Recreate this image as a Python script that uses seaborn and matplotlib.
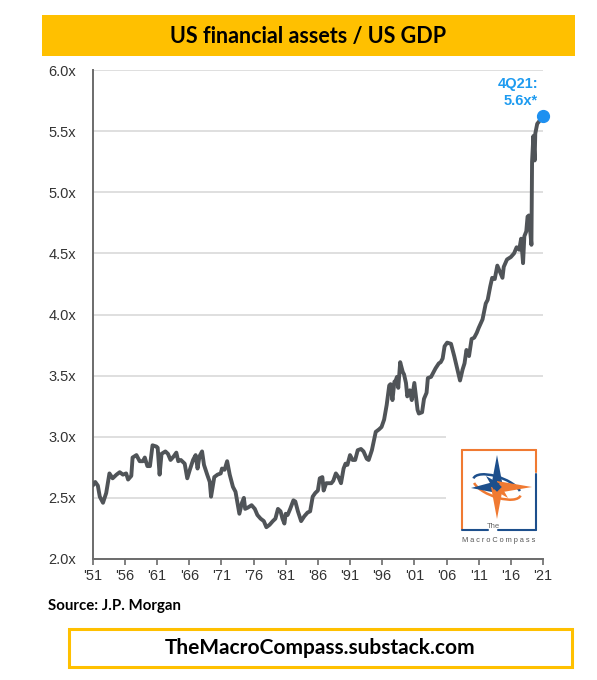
import matplotlib
matplotlib.use("Agg")
import matplotlib.pyplot as plt
import seaborn as sns
import pandas as pd
from matplotlib.patches import Rectangle, Polygon, Arc

# ---------------- data ----------------
years = [1951.0, 1951.4, 1951.8, 1952.1, 1952.6, 1953.1, 1953.6, 1954.1, 1954.7, 1955.2,
         1955.7, 1956.2, 1956.5, 1957.0, 1957.2, 1957.8, 1958.3, 1958.8, 1959.1, 1959.5,
         1959.9, 1960.3, 1960.9, 1961.1, 1961.4, 1961.7, 1962.3, 1962.7, 1963.1, 1963.6,
         1964.0, 1964.3, 1964.7, 1965.3, 1965.7, 1966.1, 1966.6, 1967.0, 1967.3, 1967.6,
         1968.0, 1968.3, 1968.8, 1969.2, 1969.4, 1969.9, 1970.4, 1970.9, 1971.1, 1971.5,
         1971.9, 1972.3, 1972.8, 1973.2, 1973.5, 1973.8, 1974.2, 1974.5, 1974.7, 1975.1,
         1975.7, 1976.2, 1976.6, 1977.1, 1977.6, 1978.0, 1978.5, 1979.0, 1979.4, 1979.8,
         1980.2, 1980.5, 1980.8, 1981.0, 1981.3, 1981.7, 1982.2, 1982.5, 1982.9, 1983.4,
         1983.9, 1984.4, 1984.8, 1985.2, 1985.6, 1986.0, 1986.3, 1986.7, 1986.9, 1987.3,
         1988.1, 1988.4, 1988.8, 1989.2, 1989.6, 1990.0, 1990.3, 1990.6, 1991.0, 1991.4,
         1991.8, 1992.2, 1992.7, 1993.1, 1993.6, 1993.9, 1994.4, 1995.0, 1995.5, 1995.9,
         1996.3, 1996.7, 1997.1, 1997.3, 1997.6, 1997.9, 1998.1, 1998.3, 1998.5, 1998.8,
         1999.2, 1999.4, 1999.7, 1999.9, 2000.3, 2000.6, 2001.0, 2001.2, 2001.5, 2001.7,
         2002.2, 2002.5, 2002.9, 2003.1, 2003.6, 2004.0, 2004.3, 2004.8, 2005.1, 2005.4,
         2005.7, 2006.1, 2006.7, 2007.2, 2007.7, 2008.1, 2008.5, 2008.8, 2009.1, 2009.5,
         2009.9, 2010.3, 2010.7, 2011.0, 2011.6, 2012.1, 2012.4, 2012.8, 2013.1, 2013.5,
         2013.9, 2014.3, 2014.7, 2014.9, 2015.4, 2016.0, 2016.5, 2016.9, 2017.3, 2017.6,
         2017.9, 2018.1, 2018.4, 2018.6, 2018.8, 2019.2, 2019.3, 2019.5, 2019.7, 2019.8,
         2020.1, 2021.0]
ratio = [2.60, 2.63, 2.60, 2.51, 2.46, 2.54, 2.70, 2.66, 2.69, 2.71,
         2.69, 2.70, 2.65, 2.68, 2.83, 2.85, 2.80, 2.80, 2.83, 2.76,
         2.76, 2.93, 2.92, 2.91, 2.69, 2.86, 2.88, 2.86, 2.81, 2.84,
         2.87, 2.80, 2.81, 2.78, 2.66, 2.73, 2.81, 2.85, 2.74, 2.84,
         2.88, 2.77, 2.69, 2.63, 2.51, 2.67, 2.69, 2.70, 2.74, 2.73,
         2.80, 2.69, 2.59, 2.55, 2.46, 2.37, 2.46, 2.50, 2.41, 2.42,
         2.44, 2.41, 2.36, 2.33, 2.31, 2.26, 2.28, 2.31, 2.33, 2.41,
         2.39, 2.33, 2.29, 2.37, 2.36, 2.41, 2.48, 2.47, 2.39, 2.31,
         2.35, 2.38, 2.39, 2.51, 2.54, 2.56, 2.66, 2.67, 2.56, 2.62,
         2.62, 2.64, 2.70, 2.67, 2.62, 2.74, 2.78, 2.77, 2.85, 2.81,
         2.81, 2.89, 2.90, 2.88, 2.82, 2.81, 2.89, 3.04, 3.06, 3.08,
         3.14, 3.26, 3.42, 3.43, 3.30, 3.45, 3.46, 3.49, 3.40, 3.61,
         3.53, 3.51, 3.44, 3.33, 3.38, 3.30, 3.44, 3.35, 3.22, 3.19,
         3.20, 3.31, 3.36, 3.48, 3.49, 3.53, 3.56, 3.60, 3.61, 3.64,
         3.74, 3.77, 3.76, 3.66, 3.55, 3.46, 3.55, 3.60, 3.71, 3.66,
         3.80, 3.81, 3.85, 3.89, 3.96, 4.09, 4.12, 4.23, 4.30, 4.29,
         4.40, 4.35, 4.30, 4.39, 4.45, 4.47, 4.50, 4.55, 4.53, 4.62,
         4.42, 4.64, 4.68, 4.80, 4.81, 4.57, 5.25, 5.46, 5.26, 5.48,
         5.56, 5.62]
xtick_years = [1951, 1956, 1961, 1966, 1971, 1976, 1981, 1986, 1991, 1996,
               2001, 2006, 2011, 2016, 2021]
xtick_labels = ["'51", "'56", "'61", "'66", "'71", "'76", "'81", "'86", "'91", "'96",
                "'01", "'06", "'11", "'16", "'21"]
ytick_values = [2.0, 2.5, 3.0, 3.5, 4.0, 4.5, 5.0, 5.5, 6.0]
ytick_labels = ["2.0x", "2.5x", "3.0x", "3.5x", "4.0x", "4.5x", "5.0x", "5.5x", "6.0x"]
last_label = ["4Q21:", "5.6x*"]
title = "US financial assets / US GDP"
source = "Source: J.P. Morgan"
footer = "TheMacroCompass.substack.com"

df = pd.DataFrame({"year": years, "ratio": ratio})

# ---------------- style ----------------
sns.set_style("white")
plt.rcParams["font.family"] = ["Liberation Sans", "DejaVu Sans"]

W, H = 597, 680
fig = plt.figure(figsize=(W / 100, H / 100), dpi=100)
fig.patch.set_facecolor("white")


def fx(x):
    return x / W


def fy(y):
    return 1 - y / H


ax = fig.add_axes([fx(92.7), fy(559), fx(543) - fx(92.7), fy(70) - fy(559)])
line_col = "#505458"
sns.lineplot(data=df, x="year", y="ratio", ax=ax, color=line_col, linewidth=2.8,
             solid_joinstyle="round", solid_capstyle="round", zorder=3)
ax.plot([years[-1]], [ratio[-1]], "o", color="#1E90F0", markersize=8.5,
        zorder=4, clip_on=False)

ax.set_xlim(1951, 2021)
ax.set_ylim(2.0, 6.0)
ax.set_xticks(xtick_years)
ax.set_xticklabels(xtick_labels)
ax.set_yticks(ytick_values)
ax.set_yticklabels(ytick_labels)
ax.set_xlabel("")
ax.set_ylabel("")
ax.yaxis.grid(True, color="#d9d9d9", linewidth=1.2)
ax.xaxis.grid(False)
for s in ["top", "right"]:
    ax.spines[s].set_visible(False)
for s in ["left", "bottom"]:
    ax.spines[s].set_color("#6b6b6b")
    ax.spines[s].set_linewidth(1.4)
ax.tick_params(axis="x", which="both", bottom=True, length=4, width=1.2,
               color="#6b6b6b", labelsize=10.5, labelcolor="#333333", pad=3)
ax.tick_params(axis="y", which="both", left=False, labelsize=10.5,
               labelcolor="#333333", pad=8.5)

# annotation of the last point
fig.text(fx(538), fy(84), last_label[0], ha="right", va="center", fontsize=10.5,
         color="#1E9BF0", fontweight="bold")
fig.text(fx(538), fy(101), last_label[1], ha="right", va="center", fontsize=10.5,
         color="#1E9BF0", fontweight="bold")

# ---------------- title banner ----------------
fig.patches.append(Rectangle((fx(42), fy(56)), fx(575) - fx(42), fy(15) - fy(56),
                             transform=fig.transFigure, facecolor="#FFC000",
                             edgecolor="none", zorder=1))
fig.text(fx(308), fy(36), title, ha="center", va="center", fontsize=15.5,
         fontweight="bold", family=["Lato", "DejaVu Sans"], color="black", zorder=2)

# ---------------- source + footer ----------------
fig.text(fx(48), fy(606), source, ha="left", va="center", fontsize=10.8,
         fontweight="bold", family=["Lato", "DejaVu Sans"], color="black")
fig.patches.append(Rectangle((fx(69), fy(667)), fx(572) - fx(69), fy(629) - fy(667),
                             transform=fig.transFigure, facecolor="white",
                             edgecolor="#FFC000", linewidth=2.2, zorder=1))
fig.text(fx(320), fy(648), footer, ha="center", va="center", fontsize=15,
         fontweight="bold", family=["Lato", "DejaVu Sans"], color="black", zorder=2)

# ---------------- logo ----------------
lax = fig.add_axes([fx(446), fy(551), fx(546) - fx(446), fy(432) - fy(551)], zorder=5)
lax.set_xlim(446, 546)
lax.set_ylim(551, 432)
lax.set_axis_off()
orange = "#F07A32"
blue = "#1D4F8C"
lax.add_patch(Rectangle((446, 432), 100, 119, facecolor="white", edgecolor="none"))
lw = 1.5
lax.plot([462, 462], [450, 529], color=orange, lw=lw)
lax.plot([462, 536], [450, 450], color=orange, lw=lw)
lax.plot([536, 536], [450, 472], color=orange, lw=lw)
lax.plot([536, 536], [474, 530], color=blue, lw=lw)
lax.plot([462, 488], [530, 530], color=blue, lw=lw)
lax.plot([498, 536], [530, 530], color=blue, lw=lw)
lax.text(493, 526, "The", ha="center", va="center", fontsize=5.5, color="#666666")
lax.text(499, 540, "M a c r o C o m p a s s", ha="center", va="center",
         fontsize=5.3, color="#555555")
# compass rose
cx, cy = 497, 487
lax.add_patch(Arc((cx, cy), 50, 20, angle=20, theta1=180, theta2=350,
                  color=blue, lw=1.8, zorder=2))
lax.add_patch(Arc((cx, cy), 50, 20, angle=20, theta1=0, theta2=170,
                  color=orange, lw=1.8, zorder=2))
w = 6
lax.add_patch(Polygon([(cx - w, cy), (cx, 455), (cx + w, cy)], closed=True,
                      facecolor=blue, edgecolor="none", zorder=3))
lax.add_patch(Polygon([(cx, cy - w), (471, cy + 1), (cx, cy + w)], closed=True,
                      facecolor=blue, edgecolor="none", zorder=3))
lax.add_patch(Polygon([(cx - w, cy), (cx, 519), (cx + w, cy)], closed=True,
                      facecolor=orange, edgecolor="none", zorder=3))
lax.add_patch(Polygon([(cx, cy - w), (532, cy), (cx, cy + w)], closed=True,
                      facecolor=orange, edgecolor="none", zorder=3))
d = 3
lax.add_patch(Polygon([(cx - d, cy + d), (486, 476), (cx + d, cy - d)],
                      closed=True, facecolor=blue, edgecolor="none", zorder=3))
lax.add_patch(Polygon([(cx - d, cy + d), (508, 498), (cx + d, cy - d)],
                      closed=True, facecolor=orange, edgecolor="none", zorder=3))
lax.add_patch(Polygon([(cx - w * 0.8, cy), (cx, cy - w * 0.8), (cx + w * 0.8, cy),
                       (cx, cy + w * 0.8)], closed=True, facecolor=blue,
                      edgecolor="none", zorder=4))

fig.savefig("out.png", dpi=100, facecolor="white")
